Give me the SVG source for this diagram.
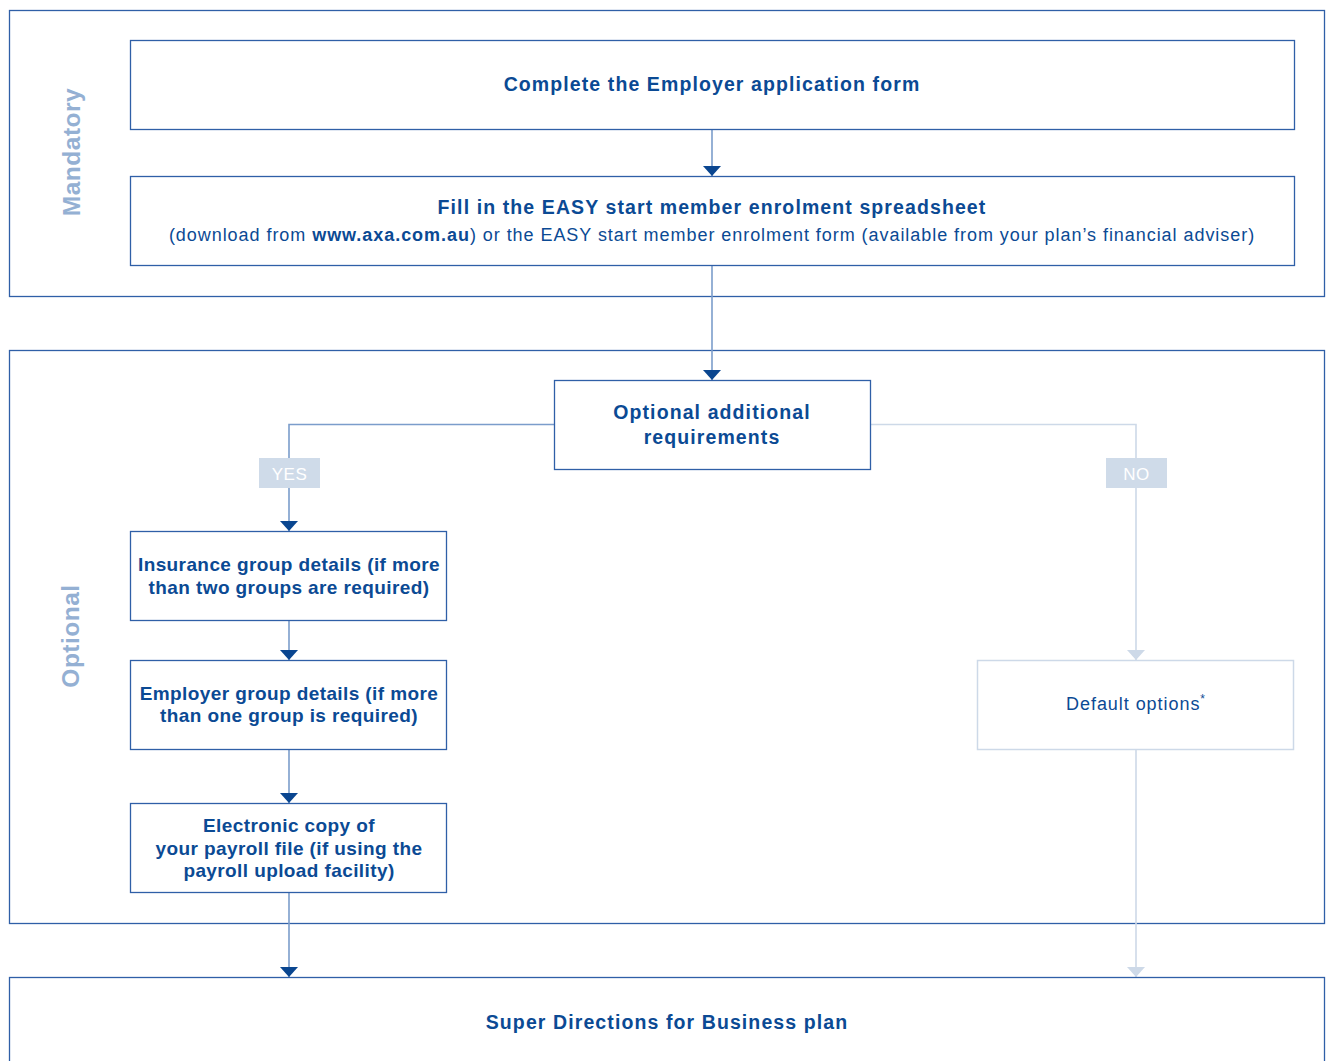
<svg xmlns="http://www.w3.org/2000/svg" width="1328" height="1061" viewBox="0 0 1328 1061">
<defs>
<style>
.cont{fill:#fff;stroke:#2f5fa7;stroke-width:1.3}
.box{fill:#fff;stroke:#2f5fa7;stroke-width:1.3}
.lbox{fill:#fff;stroke:#cdd9e8;stroke-width:1.5}
.ln{fill:none;stroke:#7b9dcb;stroke-width:1.6}
.lln{fill:none;stroke:#cdd9e8;stroke-width:1.6}
.t{font-family:"Liberation Sans",Arial,sans-serif;fill:#0b4a94;text-anchor:middle}
.b{font-weight:bold;font-size:19.5px;letter-spacing:1.1px}
.s{font-weight:bold;font-size:19px;letter-spacing:0.4px}
.r{font-size:18px;letter-spacing:0.95px}
.side{font-family:"Liberation Sans",Arial,sans-serif;font-weight:bold;font-size:24.5px;letter-spacing:0.5px;fill:#94b0d3;text-anchor:middle}
.tag{fill:#cfdbe9}
.tagt{font-family:"Liberation Sans",Arial,sans-serif;font-size:17px;fill:#fff;text-anchor:middle;letter-spacing:0.5px}
</style>
<marker id="ah" markerWidth="18" markerHeight="10" refX="9" refY="10" markerUnits="userSpaceOnUse" viewBox="0 0 18 10"><path d="M0,0 L18,0 L9,10 Z" fill="#0a4690"/></marker>
<marker id="ahl" markerWidth="18" markerHeight="10" refX="9" refY="10" markerUnits="userSpaceOnUse" viewBox="0 0 18 10"><path d="M0,0 L18,0 L9,10 Z" fill="#cdd9e8"/></marker>
</defs>
<rect width="1328" height="1061" fill="#fff"/>
<g id="mandatory-section">
<rect class="cont" x="9.5" y="10.5" width="1315" height="286"/>
<text class="side" transform="translate(80,152) rotate(-90)">Mandatory</text>
</g>
<g id="optional-section">
<rect class="cont" x="9.5" y="350.5" width="1315" height="573"/>
<text class="side" transform="translate(79,636) rotate(-90)">Optional</text>
</g>
<g id="connectors">
<path class="ln" d="M712,130 V176" marker-end="url(#ah)"/>
<path class="ln" d="M712,266 V380" marker-end="url(#ah)"/>
<path class="ln" d="M554,424.5 H289 V531" marker-end="url(#ah)"/>
<path class="lln" d="M871,424.5 H1136 V660" marker-end="url(#ahl)"/>
<path class="ln" d="M289,621 V660" marker-end="url(#ah)"/>
<path class="ln" d="M289,750 V803" marker-end="url(#ah)"/>
<path class="ln" d="M289,893 V977" marker-end="url(#ah)"/>
<path class="lln" d="M1136,750 V977" marker-end="url(#ahl)"/>
<g id="yes-label"><rect class="tag" x="259" y="458" width="61" height="30"/><text class="tagt" x="289.5" y="479.5">YES</text></g>
<g id="no-label"><rect class="tag" x="1106" y="458" width="61" height="30"/><text class="tagt" x="1136.5" y="479.5">NO</text></g>
</g>
<g id="n1">
<rect class="box" x="130.5" y="40.5" width="1164" height="89"/>
<text class="t b" x="712" y="91">Complete the Employer application form</text>
</g>
<g id="n2">
<rect class="box" x="130.5" y="176.5" width="1164" height="89"/>
<text class="t b" x="712" y="214">Fill in the EASY start member enrolment spreadsheet</text>
<text class="t r" x="712" y="241">(download from <tspan font-weight="bold">www.axa.com.au</tspan>) or the EASY start member enrolment form (available from your plan’s financial adviser)</text>
</g>
<g id="n3">
<rect class="box" x="554.5" y="380.5" width="316" height="89"/>
<text class="t b" x="712" y="419">Optional additional</text>
<text class="t b" x="712" y="444">requirements</text>
</g>
<g id="n4">
<rect class="box" x="130.5" y="531.5" width="316" height="89"/>
<text class="t s" x="289" y="571">Insurance group details (if more</text>
<text class="t s" x="289" y="594">than two groups are required)</text>
</g>
<g id="n5">
<rect class="box" x="130.5" y="660.5" width="316" height="89"/>
<text class="t s" x="289" y="700">Employer group details (if more</text>
<text class="t s" x="289" y="722">than one group is required)</text>
</g>
<g id="n6">
<rect class="box" x="130.5" y="803.5" width="316" height="89"/>
<text class="t s" x="289" y="832">Electronic copy of</text>
<text class="t s" x="289" y="855">your payroll file (if using the</text>
<text class="t s" x="289" y="877">payroll upload facility)</text>
</g>
<g id="n7">
<rect class="lbox" x="977.5" y="660.5" width="316" height="89"/>
<text class="t r" x="1136" y="710" fill="#2a64ad">Default options<tspan font-size="12px" dy="-7">*</tspan></text>
</g>
<g id="n8">
<rect class="cont" x="9.5" y="977.5" width="1315" height="100"/>
<text class="t b" x="667" y="1029">Super Directions for Business plan</text>
</g>
</svg>
